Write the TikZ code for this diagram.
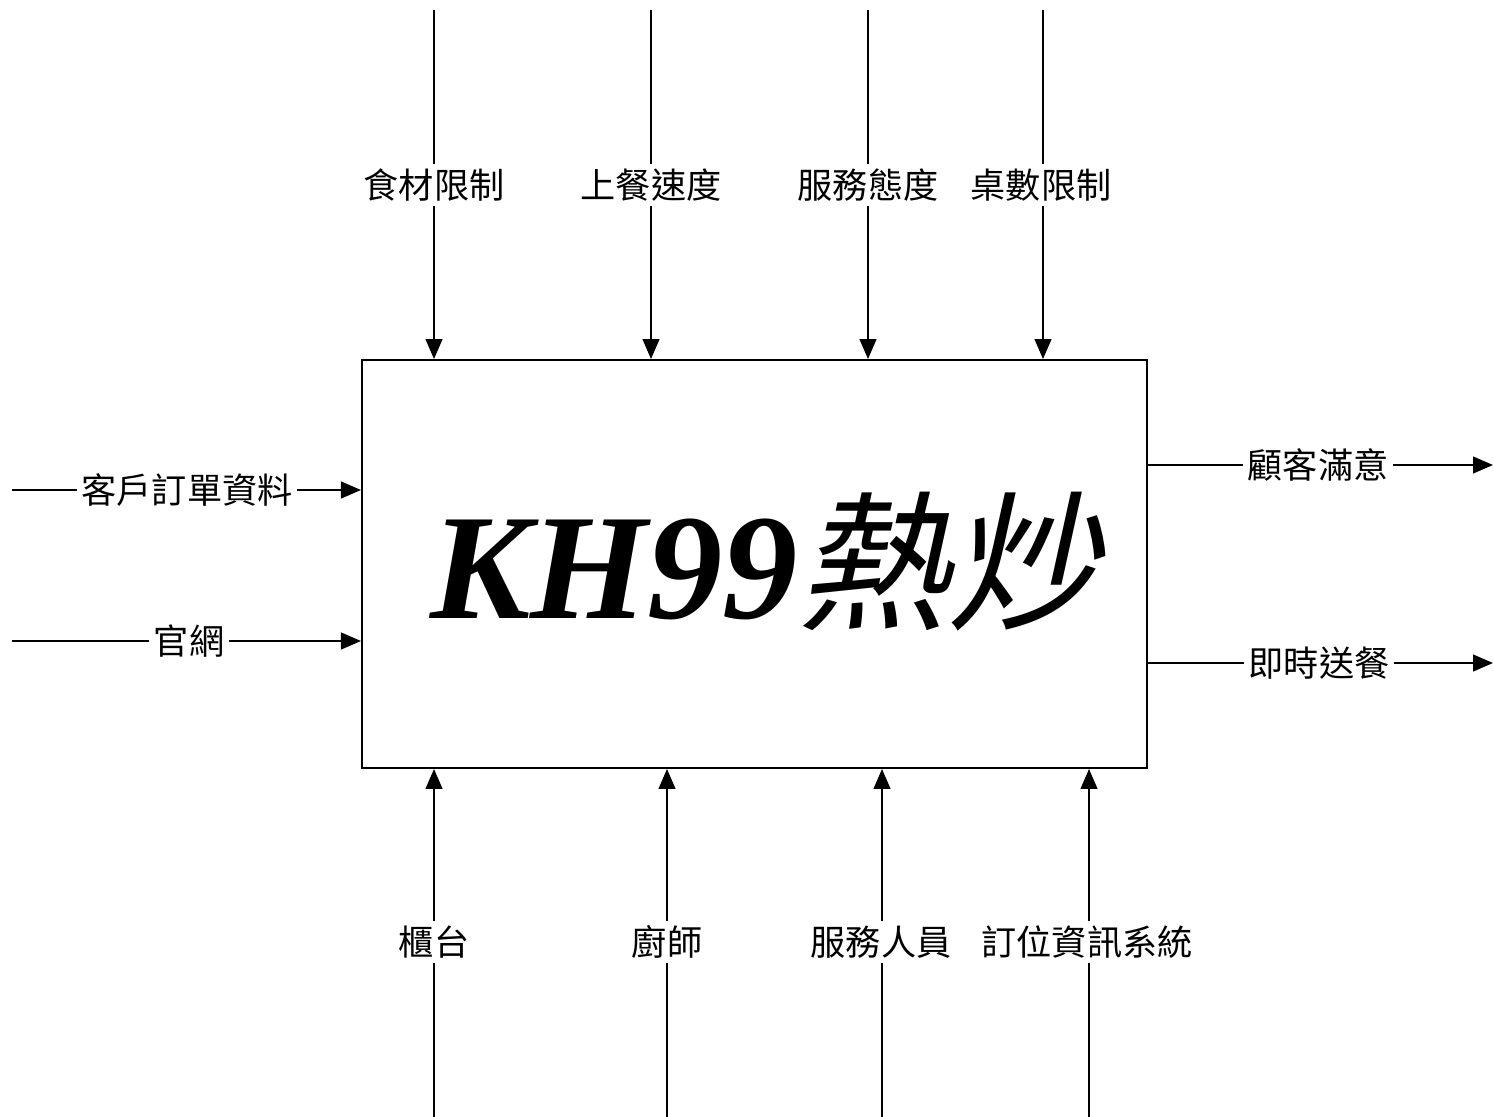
\documentclass[tikz,border=0pt]{standalone}
\usepackage{fontspec}
\setmainfont{Liberation Serif}
\newfontfamily\titlefont{Liberation Serif Bold Italic}
\newfontfamily\cjk{Noto Sans CJK TC}
\newfontfamily\cjkslant[FakeSlant=0.22]{Noto Sans CJK TC}
\usetikzlibrary{calc}
\usetikzlibrary{positioning}
\usetikzlibrary{arrows.meta}
\tikzstyle{funcbox} = [draw, rectangle, line width=1.3pt, minimum width=19.625cm, minimum height=10.2cm, inner sep=0pt]
\tikzstyle{lbl} = [inner sep=3pt, font=\cjk\fontsize{25}{28}\selectfont]
\tikzstyle{flow} = [line width=1.3pt]
\tikzstyle{flowarr} = [line width=1.3pt, -{Triangle[length=0.5cm, width=0.42cm]}]

\begin{document}
\begin{tikzpicture}[x=0.025cm, y=-0.025cm]
\useasboundingbox (0,0) rectangle (1494,1117);
\node[funcbox] (box) at (754.5,564) {};
\node (title) at ($(box.center)+(10,-2)$) {{\titlefont\fontsize{107}{110}\selectfont KH99}{\cjkslant\fontsize{107}{110}\selectfont 熱炒}};

% controls (top)
\coordinate (ctl1in) at (434,10);
\coordinate (ctl2in) at (651,10);
\coordinate (ctl3in) at (868,10);
\coordinate (ctl4in) at (1043,10);
\node[lbl] (ctl1) at (434,185) {食材限制};
\node[lbl] (ctl2) at (651,185) {上餐速度};
\node[lbl] (ctl3) at (868,185) {服務態度};
\node[lbl] (ctl4) at (1041,185) {桌數限制};
\draw[flow] (ctl1in) -- (ctl1);
\draw[flow] (ctl2in) -- (ctl2);
\draw[flow] (ctl3in) -- (ctl3);
\draw[flow] (ctl4in) -- (ctl4in |- ctl4.north);
\draw[flowarr] (ctl1) -- (ctl1 |- box.north);
\draw[flowarr] (ctl2) -- (ctl2 |- box.north);
\draw[flowarr] (ctl3) -- (ctl3 |- box.north);
\draw[flowarr] (ctl4in |- ctl4.south) -- (ctl4in |- box.north);

% mechanisms (bottom)
\coordinate (mec1in) at (434,1117);
\coordinate (mec2in) at (667,1117);
\coordinate (mec3in) at (882,1117);
\coordinate (mec4in) at (1089,1117);
\node[lbl] (mec1) at (434,942) {櫃台};
\node[lbl] (mec2) at (667,942) {廚師};
\node[lbl] (mec3) at (881,942) {服務人員};
\node[lbl] (mec4) at (1087,942) {訂位資訊系統};
\draw[flow] (mec1in) -- (mec1);
\draw[flow] (mec2in) -- (mec2);
\draw[flow] (mec3in) -- (mec3in |- mec3.south);
\draw[flow] (mec4in) -- (mec4in |- mec4.south);
\draw[flowarr] (mec1) -- (mec1 |- box.south);
\draw[flowarr] (mec2) -- (mec2 |- box.south);
\draw[flowarr] (mec3in |- mec3.north) -- (mec3in |- box.south);
\draw[flowarr] (mec4in |- mec4.north) -- (mec4in |- box.south);

% inputs (left)
\coordinate (inp1in) at (12,490);
\coordinate (inp2in) at (12,641);
\node[lbl] (inp1) at (187,490) {客戶訂單資料};
\node[lbl] (inp2) at (189,641) {官網};
\draw[flow] (inp1in) -- (inp1);
\draw[flow] (inp2in) -- (inp2);
\draw[flowarr] (inp1) -- (inp1 -| box.west);
\draw[flowarr] (inp2) -- (inp2 -| box.west);

% outputs (right)
\coordinate (out1end) at (1493,465);
\coordinate (out2end) at (1493,663);
\node[lbl] (out1) at (1318,465) {顧客滿意};
\node[lbl] (out2) at (1319,663) {即時送餐};
\draw[flow] (out1 -| box.east) -- (out1);
\draw[flow] (out2 -| box.east) -- (out2);
\draw[flowarr] (out1) -- (out1end);
\draw[flowarr] (out2) -- (out2end);
\end{tikzpicture}
\end{document}
